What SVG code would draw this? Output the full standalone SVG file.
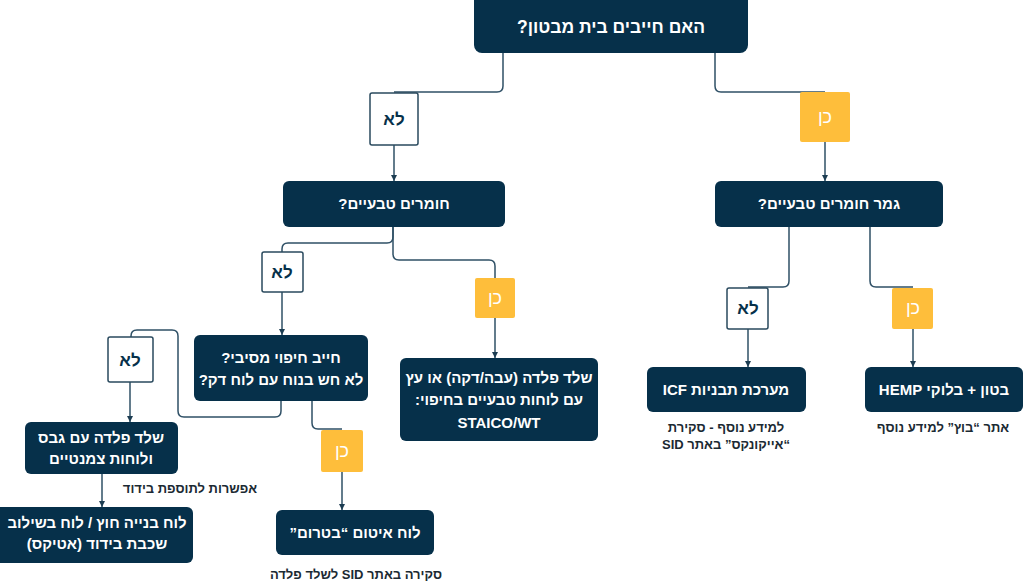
<svg xmlns="http://www.w3.org/2000/svg" width="1024" height="587" viewBox="0 0 1024 587">
<defs>
<marker id="arr" viewBox="0 0 8 8" refX="8" refY="4" markerWidth="6" markerHeight="6" markerUnits="userSpaceOnUse" orient="auto">
<path d="M0,0 L8,4 L0,8 z" fill="#1c3d52"/>
</marker>
<style>
.box{fill:#06304a}
.no{fill:#ffffff;stroke:#2a4a5e;stroke-width:1.5}
.yes{fill:#febe3b}
.t{font-family:"Liberation Sans","DejaVu Sans",sans-serif;font-weight:bold;fill:#ffffff;text-anchor:middle;direction:rtl;font-size:15px}
.lno{font-family:"Liberation Sans","DejaVu Sans",sans-serif;font-weight:bold;fill:#06304a;text-anchor:middle;direction:rtl;font-size:17px}
.lyes{font-family:"Liberation Sans","DejaVu Sans",sans-serif;fill:#ffffff;text-anchor:middle;direction:rtl;font-size:18px}
.note{font-family:"Liberation Sans","DejaVu Sans",sans-serif;font-weight:bold;fill:#1b2a33;text-anchor:middle;direction:rtl;font-size:13px}
.c{fill:none;stroke:#2f5066;stroke-width:1.5}
</style>
</defs>
<rect width="1024" height="587" fill="#ffffff"/>
<g id="connectors">
<path class="c" d="M503,53 V86 Q503,92 497,92 H394"/>
<path class="c" d="M715,53 V86 Q715,92 721,92 H825"/>
<path class="c" d="M394,145 V181" marker-end="url(#arr)"/>
<path class="c" d="M825,142 V181" marker-end="url(#arr)"/>
<path class="c" d="M789,227 V281 Q789,287 783,287 H748"/>
<path class="c" d="M870,227 V281 Q870,287 876,287 H913"/>
<path class="c" d="M748,329 V367" marker-end="url(#arr)"/>
<path class="c" d="M913,329 V367" marker-end="url(#arr)"/>
<path class="c" d="M393,227 V237 Q393,243 387,243 H288 Q282,243 282,249 V252"/>
<path class="c" d="M393,227 V254 Q393,260 399,260 H489 Q495,260 495,266 V278"/>
<path class="c" d="M282,292 V335" marker-end="url(#arr)"/>
<path class="c" d="M495,318 V358" marker-end="url(#arr)"/>
<path class="c" d="M281,401 V411 Q281,417 275,417 H184 Q178,417 178,411 V336 Q178,330 172,330 H137 Q131,330 131,336 V337"/>
<path class="c" d="M312,401 V423 Q312,429 318,429 H342"/>
<path class="c" d="M130,382 V422" marker-end="url(#arr)"/>
<path class="c" d="M342,472 V510" marker-end="url(#arr)"/>
<path class="c" d="M102,474 V507" marker-end="url(#arr)"/>
</g>
<g id="q-top"><rect class="box" x="474" y="-10" width="274" height="63" rx="8"/><text class="t" x="611" y="33" style="font-size:17.5px">האם חייבים בית מבטון?</text></g>
<g id="l-no1"><rect class="no" x="370" y="93" width="48" height="52" rx="2"/><text class="lno" x="394" y="125">לא</text></g>
<g id="l-yes1"><rect class="yes" x="800" y="92" width="50" height="50" rx="2"/><text class="lyes" x="825" y="123">כן</text></g>
<g id="q-natural"><rect class="box" x="283" y="181" width="222" height="46" rx="6"/><text class="t" x="394" y="209">חומרים טבעיים?</text></g>
<g id="q-finish"><rect class="box" x="715" y="181" width="228" height="46" rx="6"/><text class="t" x="829" y="209">גמר חומרים טבעיים?</text></g>
<g id="l-no2"><rect class="no" x="727" y="288" width="41" height="41" rx="2"/><text class="lno" x="748" y="314">לא</text></g>
<g id="l-yes2"><rect class="yes" x="892" y="288" width="41" height="41" rx="2"/><text class="lyes" x="913" y="314">כן</text></g>
<g id="r-icf"><rect class="box" x="647" y="367" width="159" height="45" rx="6"/><text class="t" x="726" y="395">מערכת תבניות ICF</text></g>
<g id="r-hemp"><rect class="box" x="865" y="367" width="158" height="45" rx="6"/><text class="t" x="944" y="395">בטון + בלוקי HEMP</text></g>
<g id="n-icf"><text class="note" x="726" y="432">למידע נוסף - סקירת</text><text class="note" x="726" y="449">“אייקונקס” באתר SID</text></g>
<g id="n-hemp"><text class="note" x="943" y="432">אתר “בוץ” למידע נוסף</text></g>
<g id="l-no3"><rect class="no" x="262" y="252" width="41" height="40" rx="2"/><text class="lno" x="282" y="278">לא</text></g>
<g id="l-yes3"><rect class="yes" x="475" y="278" width="40" height="40" rx="2"/><text class="lyes" x="495" y="304">כן</text></g>
<g id="q-massive"><rect class="box" x="194" y="335" width="174" height="66" rx="6"/><text class="t" x="281" y="363">חייב חיפוי מסיבי?</text><text class="t" x="281" y="385">לא חש בנוח עם לוח דק?</text></g>
<g id="r-staico"><rect class="box" x="400" y="358" width="198" height="83" rx="6"/><text class="t" x="499" y="383">שלד פלדה (עבה/דקה) או עץ</text><text class="t" x="499" y="405">עם לוחות טבעיים בחיפוי:</text><text class="t" x="499" y="428">STAICO/WT</text></g>
<g id="l-no4"><rect class="no" x="108" y="337" width="45" height="45" rx="2"/><text class="lno" x="130" y="366">לא</text></g>
<g id="r-gypsum"><rect class="box" x="25" y="422" width="153" height="52" rx="6"/><text class="t" x="101" y="443">שלד פלדה עם גבס</text><text class="t" x="101" y="464">ולוחות צמנטיים</text></g>
<g id="n-insul"><text class="note" x="190" y="493">אפשרות לתוספת בידוד</text></g>
<g id="r-etics"><rect class="box" x="-6" y="507" width="199" height="56" rx="6"/><text class="t" x="97" y="528">לוח בנייה חוץ / לוח בשילוב</text><text class="t" x="97" y="549">שכבת בידוד (אטיקס)</text></g>
<g id="l-yes4"><rect class="yes" x="321" y="430" width="42" height="42" rx="2"/><text class="lyes" x="342" y="457">כן</text></g>
<g id="r-betrom"><rect class="box" x="276" y="510" width="158" height="45" rx="6"/><text class="t" x="355" y="538">לוח איטום “בטרום”</text></g>
<g id="n-betrom"><text class="note" x="356" y="579">סקירה באתר SID לשלד פלדה</text></g>
</svg>
